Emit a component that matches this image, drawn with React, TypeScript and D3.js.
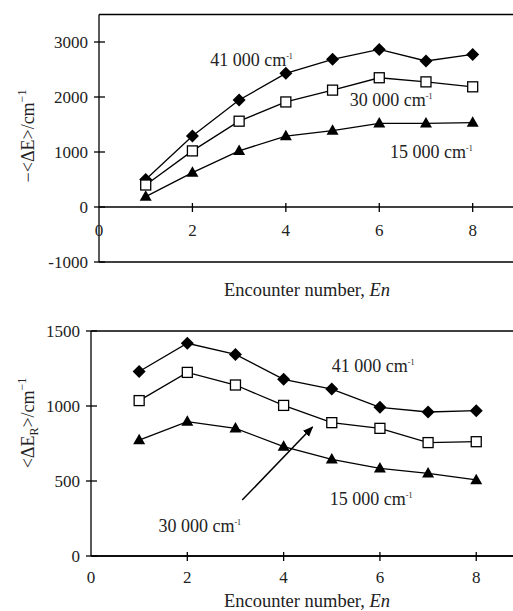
import React from 'react'
import * as d3 from 'd3'

// encounter numbers (x)
const encounters = [1, 2, 3, 4, 5, 6, 7, 8]

// top panel: -<dE> / cm-1
const topE41000 = [500, 1290, 1945, 2430, 2685, 2865, 2655, 2775]
const topE30000 = [400, 1020, 1560, 1910, 2125, 2350, 2275, 2185]
const topE15000 = [190, 625, 1020, 1290, 1390, 1520, 1520, 1535]

// bottom panel: <dE_R> / cm-1
const botE41000 = [1230, 1418, 1344, 1178, 1113, 991, 960, 969]
const botE30000 = [1036, 1224, 1140, 1004, 889, 851, 756, 762]
const botE15000 = [773, 896, 851, 729, 644, 584, 551, 507]

const xTicks = [0, 2, 4, 6, 8]
const topYTicks = [-1000, 0, 1000, 2000, 3000]
const botYTicks = [0, 500, 1000, 1500]

const FONT = '"Liberation Serif", "DejaVu Serif", serif'

type Shape = 'diamond' | 'square' | 'triangle'

const Marker = ({ shape, x, y }: { shape: Shape; x: number; y: number }) => {
  if (shape === 'diamond') {
    const r = 6.5
    return <path d={`M${x},${y - r}L${x + r},${y}L${x},${y + r}L${x - r},${y}Z`} fill="#000" />
  }
  if (shape === 'square') {
    const s = 10
    return <rect x={x - s / 2} y={y - s / 2} width={s} height={s} fill="#fff" stroke="#000" strokeWidth={1.3} />
  }
  const w = 12
  const h = 10.5
  return <path d={`M${x},${y - h * 0.6}L${x + w / 2},${y + h * 0.4}L${x - w / 2},${y + h * 0.4}Z`} fill="#000" />
}

const CmLabel = ({ x, y, text }: { x: number; y: number; text: string }) => (
  <text x={x} y={y} fontSize={18} fontFamily={FONT} fill="#222">
    {text} cm
    <tspan fontSize={8} dy={-7}>-1</tspan>
  </text>
)

type PanelProps = {
  xRange: [number, number]
  yDomain: [number, number]
  yRange: [number, number]
  yTicks: number[]
  series: { values: number[]; shape: Shape }[]
  tickLabelY: number
  yLabelCenter: number
  yLabel: React.ReactNode
  xLabelY: number
  children?: (x: d3.ScaleLinear<number, number>, y: d3.ScaleLinear<number, number>) => React.ReactNode
}

const Panel = ({ xRange, yDomain, yRange, yTicks, series, tickLabelY, yLabelCenter, yLabel, xLabelY, children }: PanelProps) => {
  const x = d3.scaleLinear().domain([0, 9]).range(xRange)
  const y = d3.scaleLinear().domain(yDomain).range(yRange)
  const line = d3
    .line<number>()
    .x((_, i) => x(encounters[i]))
    .y(d => y(d))
  const x0 = x(0)
  const x9 = x(9)
  const yTop = y(yDomain[1])
  const yBot = y(yDomain[0])
  return (
    <g>
      {/* frame */}
      <line x1={x0} x2={x9} y1={yTop} y2={yTop} stroke="#000" strokeWidth={1.3} />
      <line x1={x0} x2={x9} y1={yBot} y2={yBot} stroke="#000" strokeWidth={1.3} />
      <line x1={x0} x2={x0} y1={yTop} y2={yBot} stroke="#000" strokeWidth={1.3} />
      <line x1={x0} x2={x9} y1={y(0)} y2={y(0)} stroke="#000" strokeWidth={1.3} />
      {yTicks.map(t => (
        <g key={t}>
          <line x1={x0 - 5} x2={x0 + 6} y1={y(t)} y2={y(t)} stroke="#000" strokeWidth={1.3} />
          <text x={x0 - 11} y={y(t) + 6} textAnchor="end" fontSize={17} fontFamily={FONT} fill="#222">
            {t}
          </text>
        </g>
      ))}
      {xTicks.map(t => (
        <g key={t}>
          {t > 0 && <line x1={x(t)} x2={x(t)} y1={y(0) - 4} y2={y(0) + 5} stroke="#000" strokeWidth={1.3} />}
          <text x={x(t)} y={tickLabelY} textAnchor="middle" fontSize={17} fontFamily={FONT} fill="#222">
            {t}
          </text>
        </g>
      ))}
      {series.map((s, si) => (
        <g key={si}>
          <path d={line(s.values) || ''} fill="none" stroke="#000" strokeWidth={1.3} />
          {s.values.map((v, i) => (
            <Marker key={i} shape={s.shape} x={x(encounters[i])} y={y(v)} />
          ))}
        </g>
      ))}
      <text
        transform={`translate(34,${yLabelCenter}) rotate(-90)`}
        textAnchor="middle"
        fontSize={18}
        fontFamily={FONT}
        fill="#222"
      >
        {yLabel}
      </text>
      <text x={307} y={xLabelY} textAnchor="middle" fontSize={18.5} fontFamily={FONT} fill="#222">
        Encounter number, <tspan fontStyle="italic">En</tspan>
      </text>
      {children && children(x, y)}
    </g>
  )
}

export default function App() {
  return (
    <svg width={513} height={611} style={{ position: 'absolute', left: 0, top: 0, background: '#fff' }}>
      <Panel
        xRange={[99, 519.4]}
        yDomain={[-1000, 3500]}
        yRange={[262, 14.5]}
        yTicks={topYTicks}
        tickLabelY={236}
        yLabelCenter={136}
        xLabelY={296}
        yLabel={
          <>
            −&lt;ΔE&gt;/cm<tspan fontSize={12} dy={-8}>−1</tspan>
          </>
        }
        series={[
          { values: topE41000, shape: 'diamond' },
          { values: topE30000, shape: 'square' },
          { values: topE15000, shape: 'triangle' }
        ]}
      >
        {(x, y) => (
          <>
            <CmLabel x={x(2.38)} y={y(2560)} text="41 000" />
            <CmLabel x={x(5.37)} y={y(1840)} text="30 000" />
            <CmLabel x={x(6.23)} y={y(900)} text="15 000" />
          </>
        )}
      </Panel>
      <Panel
        xRange={[91, 524.4]}
        yDomain={[0, 1500]}
        yRange={[556, 331]}
        yTicks={botYTicks}
        tickLabelY={583}
        yLabelCenter={423}
        xLabelY={607}
        yLabel={
          <>
            &lt;ΔE<tspan fontSize={12} dy={4}>R</tspan>
            <tspan dy={-4}>&gt;/cm</tspan>
            <tspan fontSize={12} dy={-8}>−1</tspan>
          </>
        }
        series={[
          { values: botE41000, shape: 'diamond' },
          { values: botE30000, shape: 'square' },
          { values: botE15000, shape: 'triangle' }
        ]}
      >
        {(x, y) => (
          <>
            <defs>
              <marker id="arr" viewBox="0 0 10 10" refX="9" refY="5" markerWidth="7" markerHeight="7" orient="auto">
                <path d="M0,1L10,5L0,9Z" fill="#000" />
              </marker>
            </defs>
            <line
              x1={x(3.14)}
              y1={y(373)}
              x2={x(4.6)}
              y2={y(860)}
              stroke="#000"
              strokeWidth={1.5}
              markerEnd="url(#arr)"
            />
            <CmLabel x={x(5.0)} y={y(1226)} text="41 000" />
            <CmLabel x={x(4.96)} y={y(340)} text="15 000" />
            <CmLabel x={x(1.4)} y={y(160)} text="30 000" />
          </>
        )}
      </Panel>
    </svg>
  )
}
